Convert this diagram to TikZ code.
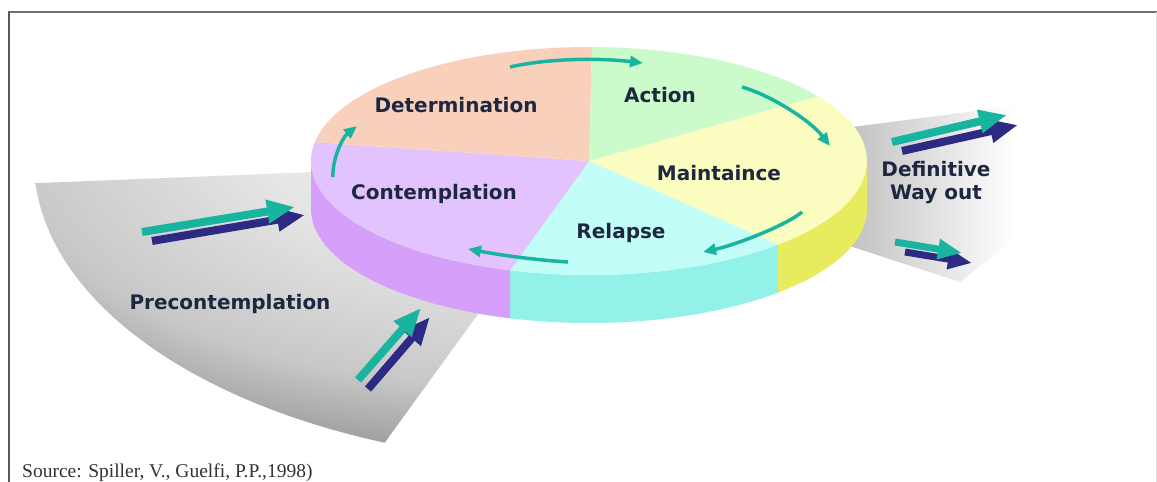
\documentclass[tikz,border=0pt]{standalone}
\usepackage{fontspec}
\setmainfont{Liberation Serif}
\newfontfamily\labfont{DejaVu Sans}
\usetikzlibrary{arrows.meta,calc}
\definecolor{detc}{HTML}{F9D0BC}
\definecolor{actc}{HTML}{CCFBCB}
\definecolor{mainc}{HTML}{FAFCC0}
\definecolor{relc}{HTML}{C2FDF8}
\definecolor{conc}{HTML}{E3C3FD}
\definecolor{mainside}{HTML}{E7EC5E}
\definecolor{relside}{HTML}{92F2E9}
\definecolor{conside}{HTML}{D6A0FA}
\definecolor{arrteal}{HTML}{19B4A0}
\definecolor{arrnavy}{HTML}{2C2A82}
\definecolor{labc}{HTML}{1E2740}
\definecolor{srcc}{HTML}{333333}
\definecolor{gwA}{HTML}{F4F4F4}
\definecolor{gwB}{HTML}{E6E6E6}
\definecolor{gwC}{HTML}{C8C8C8}
\definecolor{gwD}{HTML}{A0A0A0}
\definecolor{rwA}{HTML}{C0C0C0}
\definecolor{framec}{HTML}{707070}
\pgfdeclareradialshading{graywedge}{\pgfpoint{0bp}{0bp}}{color(0bp)=(gwA); color(10bp)=(gwB); color(20bp)=(gwC); color(25bp)=(gwD); color(50bp)=(gwD)}
\begin{document}
\begin{tikzpicture}[x=1pt,y=-1pt,
  lab/.style={font=\labfont\bfseries\fontsize{20}{23}\selectfont, text=labc, inner sep=0pt},
  cyc/.style={draw=arrteal, line width=3.5pt, -{Triangle[length=13pt,width=11pt]}},
  bigteal/.style={draw=arrteal, line width=8pt, -{Triangle[length=28pt,width=22pt]}},
  bignavy/.style={draw=arrnavy, line width=8pt, -{Triangle[length=28pt,width=22pt]}},
  smallteal/.style={draw=arrteal, line width=7pt, -{Triangle[length=24pt,width=19pt]}},
  smallnavy/.style={draw=arrnavy, line width=7pt, -{Triangle[length=24pt,width=19pt]}},
]
\useasboundingbox (0,0) rectangle (1157,482);
\fill[white] (0,0) rectangle (1157,482);
\coordinate (C) at (589,161);
\def\rx{278}
\def\ry{114}
\def\th{48}

% left grey wedge (Precontemplation)
\begin{scope}
  \clip (C) -- ($(C)+(175.8:555 and 303)$) arc[start angle=175.8, end angle=111.6, x radius=555, y radius=303] -- cycle;
  \shade[shading=graywedge] (520,130) ellipse [x radius=640, y radius=320];
\end{scope}

% right grey wedge (Definitive way out)
\begin{scope}
  \clip (C) -- (1030,104) -- (1046,213) -- (960,282) -- cycle;
  \shade[left color=rwA, right color=white] (845,95) rectangle (1015,290);
\end{scope}

% pie side
\fill[mainside] ($(C)+(0:\rx\space and \ry)$) arc[start angle=0, end angle=47.2, x radius=\rx, y radius=\ry] -- ++(0,\th) arc[start angle=47.2, end angle=0, x radius=\rx, y radius=\ry] -- cycle;
\fill[relside] ($(C)+(47.2:\rx\space and \ry)$) arc[start angle=47.2, end angle=106.5, x radius=\rx, y radius=\ry] -- ++(0,\th) arc[start angle=106.5, end angle=47.2, x radius=\rx, y radius=\ry] -- cycle;
\fill[conside] ($(C)+(106.5:\rx\space and \ry)$) arc[start angle=106.5, end angle=180, x radius=\rx, y radius=\ry] -- ++(0,\th) arc[start angle=180, end angle=106.5, x radius=\rx, y radius=\ry] -- cycle;

% pie top
\fill[actc] (C) -- ($(C)+(270.6:\rx\space and \ry)$) arc[start angle=270.6, end angle=325.5, x radius=\rx, y radius=\ry] -- cycle;
\fill[mainc] (C) -- ($(C)+(325.5:\rx\space and \ry)$) arc[start angle=325.5, end angle=407.2, x radius=\rx, y radius=\ry] -- cycle;
\fill[relc] (C) -- ($(C)+(47.2:\rx\space and \ry)$) arc[start angle=47.2, end angle=106.5, x radius=\rx, y radius=\ry] -- cycle;
\fill[conc] (C) -- ($(C)+(106.5:\rx\space and \ry)$) arc[start angle=106.5, end angle=189.5, x radius=\rx, y radius=\ry] -- cycle;
\fill[detc] (C) -- ($(C)+(189.5:\rx\space and \ry)$) arc[start angle=189.5, end angle=270.6, x radius=\rx, y radius=\ry] -- cycle;

% labels
\node[lab, anchor=base] (det) at (456,112) {Determination};
\node[lab, anchor=base] (act) at (660,102) {Action};
\node[lab, anchor=base] (mai) at (719,180) {Maintaince};
\node[lab, anchor=base] (rel) at (621,238) {Relapse};
\node[lab, anchor=base] (con) at (434,199) {Contemplation};
\node[lab, anchor=base] (pre) at (230,309) {Precontemplation};
\node[lab, align=center] (dwo) at (936,183) {Definitive\\Way out};

% cycle arrows
\coordinate (c1s) at (510,67);  \coordinate (c1e) at (643,63);
\coordinate (c2s) at (742,87);  \coordinate (c2e) at (830,146);
\coordinate (c3s) at (802,212); \coordinate (c3e) at (703,252);
\coordinate (c4s) at (568,262); \coordinate (c4e) at (468,249);
\coordinate (c5s) at (333,177); \coordinate (c5e) at (357,126);
\draw[cyc] (c1s) .. controls (550,58) and (600,58) .. (c1e);
\draw[cyc] (c2s) .. controls (770,95) and (810,120) .. (c2e);
\draw[cyc] (c3s) .. controls (785,226) and (735,245) .. (c3e);
\draw[cyc] (c4s) .. controls (535,260) and (500,255) .. (c4e);
\draw[cyc] (c5s) .. controls (332,160) and (342,138) .. (c5e);

% big arrow pairs
\coordinate (t1s) at (142,232); \coordinate (t1e) at (295,207);
\coordinate (n1s) at (152,241); \coordinate (n1e) at (305,215);
\coordinate (t2s) at (358,380); \coordinate (t2e) at (421,308);
\coordinate (n2s) at (368,389); \coordinate (n2e) at (430,317);
\coordinate (t3s) at (892,142); \coordinate (t3e) at (1007,115);
\coordinate (n3s) at (902,151); \coordinate (n3e) at (1018,125);
\coordinate (t4s) at (895,242); \coordinate (t4e) at (962,253);
\coordinate (n4s) at (905,252); \coordinate (n4e) at (972,263);
\draw[bignavy] (n1s) -- (n1e);
\draw[bigteal] (t1s) -- (t1e);
\draw[bignavy] (n2s) -- (n2e);
\draw[bigteal] (t2s) -- (t2e);
\draw[bignavy] (n3s) -- (n3e);
\draw[bigteal] (t3s) -- (t3e);
\draw[smallnavy] (n4s) -- (n4e);
\draw[smallteal] (t4s) -- (t4e);

% frame
\draw[framec, line width=2pt] (8,12) -- (1157,12);
\draw[framec!80!black, line width=2pt] (9,11) -- (9,482);
\draw[black!12, line width=1pt] (1156,12) -- (1156,482);

% source
\node[anchor=base west, font=\fontsize{19.5}{22}\selectfont, text=srcc, inner sep=0pt] (src) at (22,477) {Source: Spiller, V., Guelfi, P.P.,1998)};
\end{tikzpicture}
\end{document}
